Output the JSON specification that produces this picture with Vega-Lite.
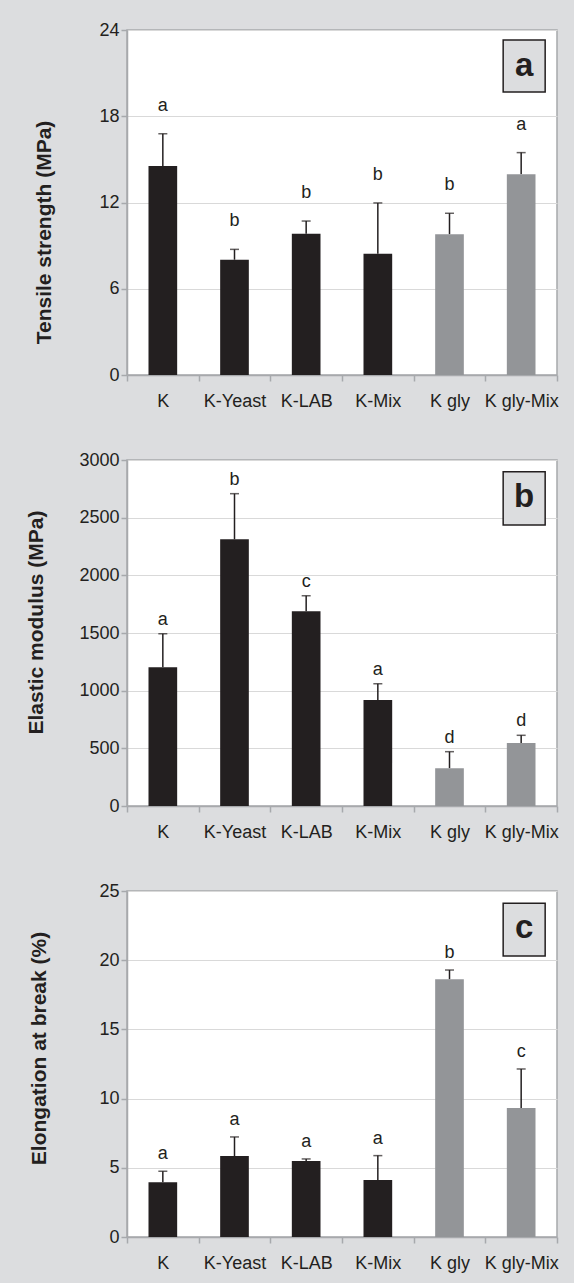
{
  "$schema": "https://vega.github.io/schema/vega-lite/v6.json",
  "background": "#dcdddf",
  "padding": {"left": 25, "top": 20, "right": 18, "bottom": 10},
  "spacing": 39,
  "datasets": {
    "tensile": [
      {"film": "K", "mean": 14.54, "upper": 16.79, "letter": "a", "plasticizer": "none"},
      {"film": "K-Yeast", "mean": 8.02, "upper": 8.74, "letter": "b", "plasticizer": "none"},
      {"film": "K-LAB", "mean": 9.83, "upper": 10.71, "letter": "b", "plasticizer": "none"},
      {"film": "K-Mix", "mean": 8.44, "upper": 11.97, "letter": "b", "plasticizer": "none"},
      {"film": "K gly", "mean": 9.79, "upper": 11.25, "letter": "b", "plasticizer": "glycerol"},
      {"film": "K gly-Mix", "mean": 13.96, "upper": 15.47, "letter": "a", "plasticizer": "glycerol"}
    ],
    "modulus": [
      {"film": "K", "mean": 1202, "upper": 1494, "letter": "a", "plasticizer": "none"},
      {"film": "K-Yeast", "mean": 2312, "upper": 2708, "letter": "b", "plasticizer": "none"},
      {"film": "K-LAB", "mean": 1688, "upper": 1823, "letter": "c", "plasticizer": "none"},
      {"film": "K-Mix", "mean": 919, "upper": 1060, "letter": "a", "plasticizer": "none"},
      {"film": "K gly", "mean": 327, "upper": 471, "letter": "d", "plasticizer": "glycerol"},
      {"film": "K gly-Mix", "mean": 546, "upper": 613, "letter": "d", "plasticizer": "glycerol"}
    ],
    "elongation": [
      {"film": "K", "mean": 3.95, "upper": 4.75, "letter": "a", "plasticizer": "none"},
      {"film": "K-Yeast", "mean": 5.85, "upper": 7.23, "letter": "a", "plasticizer": "none"},
      {"film": "K-LAB", "mean": 5.49, "upper": 5.64, "letter": "a", "plasticizer": "none"},
      {"film": "K-Mix", "mean": 4.12, "upper": 5.88, "letter": "a", "plasticizer": "none"},
      {"film": "K gly", "mean": 18.62, "upper": 19.29, "letter": "b", "plasticizer": "glycerol"},
      {"film": "K gly-Mix", "mean": 9.32, "upper": 12.14, "letter": "c", "plasticizer": "glycerol"}
    ],
    "panel": [{"film": "K gly-Mix"}]
  },
  "vconcat": [
    {
      "width": 430,
      "height": 345,
      "data": {"name": "tensile"},
      "encoding": {
        "x": {
          "field": "film", "type": "nominal",
          "scale": {"domain": ["K", "K-Yeast", "K-LAB", "K-Mix", "K gly", "K gly-Mix"], "paddingInner": 0, "paddingOuter": 0},
          "axis": {"title": null, "labelAngle": 0, "tickBand": "extent", "grid": false, "labelPadding": 11}
        }
      },
      "layer": [
        {
          "mark": {"type": "rule", "color": "#231f20", "strokeWidth": 1.5},
          "encoding": {
            "y": {"field": "mean", "type": "quantitative", "scale": {"domain": [0, 24], "nice": false},
                  "axis": {"values": [0, 6, 12, 18, 24], "title": "Tensile strength (MPa)", "titlePadding": 44, "titleY": 202}},
            "y2": {"field": "upper"}
          }
        },
        {
          "mark": {"type": "tick", "orient": "horizontal", "color": "#231f20", "size": 9, "thickness": 1.5},
          "encoding": {"y": {"field": "upper", "type": "quantitative"}}
        },
        {
          "mark": {"type": "bar", "width": {"band": 0.4}},
          "encoding": {
            "y": {"field": "mean", "type": "quantitative"},
            "color": {"field": "plasticizer", "type": "nominal", "scale": {"domain": ["none", "glycerol"], "range": ["#231f20", "#939598"]}, "legend": null}
          }
        },
        {
          "mark": {"type": "text", "fontSize": 18, "color": "#231f20", "baseline": "alphabetic", "dy": -23},
          "encoding": {"y": {"field": "upper", "type": "quantitative"}, "text": {"field": "letter"}}
        },
        {
          "data": {"name": "panel"},
          "mark": {"type": "bar", "width": 42, "xOffset": 3, "fill": "#dcdddf", "stroke": "#231f20", "strokeWidth": 1.5},
          "encoding": {"y": {"datum": 23.3}, "y2": {"datum": 19.69}}
        },
        {
          "data": {"name": "panel"},
          "mark": {"type": "text", "text": "a", "fontSize": 33, "fontWeight": "bold", "color": "#231f20", "baseline": "alphabetic", "dx": 3},
          "encoding": {"y": {"datum": 20.8}}
        }
      ]
    },
    {
      "width": 430,
      "height": 346,
      "data": {"name": "modulus"},
      "encoding": {
        "x": {
          "field": "film", "type": "nominal",
          "scale": {"domain": ["K", "K-Yeast", "K-LAB", "K-Mix", "K gly", "K gly-Mix"], "paddingInner": 0, "paddingOuter": 0},
          "axis": {"title": null, "labelAngle": 0, "tickBand": "extent", "grid": false, "labelPadding": 11}
        }
      },
      "layer": [
        {
          "mark": {"type": "rule", "color": "#231f20", "strokeWidth": 1.5},
          "encoding": {
            "y": {"field": "mean", "type": "quantitative", "scale": {"domain": [0, 3000], "nice": false},
                  "axis": {"values": [0, 500, 1000, 1500, 2000, 2500, 3000], "format": "d", "title": "Elastic modulus (MPa)", "titlePadding": 32, "titleY": 162}},
            "y2": {"field": "upper"}
          }
        },
        {
          "mark": {"type": "tick", "orient": "horizontal", "color": "#231f20", "size": 9, "thickness": 1.5},
          "encoding": {"y": {"field": "upper", "type": "quantitative"}}
        },
        {
          "mark": {"type": "bar", "width": {"band": 0.4}},
          "encoding": {
            "y": {"field": "mean", "type": "quantitative"},
            "color": {"field": "plasticizer", "type": "nominal", "scale": {"domain": ["none", "glycerol"], "range": ["#231f20", "#939598"]}, "legend": null}
          }
        },
        {
          "mark": {"type": "text", "fontSize": 18, "color": "#231f20", "baseline": "alphabetic", "dy": -9},
          "encoding": {"y": {"field": "upper", "type": "quantitative"}, "text": {"field": "letter"}}
        },
        {
          "data": {"name": "panel"},
          "mark": {"type": "bar", "width": 42, "xOffset": 3, "fill": "#dcdddf", "stroke": "#231f20", "strokeWidth": 1.5},
          "encoding": {"y": {"datum": 2899}, "y2": {"datum": 2436}}
        },
        {
          "data": {"name": "panel"},
          "mark": {"type": "text", "text": "b", "fontSize": 33, "fontWeight": "bold", "color": "#231f20", "baseline": "alphabetic", "dx": 3},
          "encoding": {"y": {"datum": 2595}}
        }
      ]
    },
    {
      "width": 430,
      "height": 346,
      "data": {"name": "elongation"},
      "encoding": {
        "x": {
          "field": "film", "type": "nominal",
          "scale": {"domain": ["K", "K-Yeast", "K-LAB", "K-Mix", "K gly", "K gly-Mix"], "paddingInner": 0, "paddingOuter": 0},
          "axis": {"title": null, "labelAngle": 0, "tickBand": "extent", "grid": false, "labelPadding": 11}
        }
      },
      "layer": [
        {
          "mark": {"type": "rule", "color": "#231f20", "strokeWidth": 1.5},
          "encoding": {
            "y": {"field": "mean", "type": "quantitative", "scale": {"domain": [0, 25], "nice": false},
                  "axis": {"values": [0, 5, 10, 15, 20, 25], "title": "Elongation at break (%)", "titlePadding": 49, "titleY": 157}},
            "y2": {"field": "upper"}
          }
        },
        {
          "mark": {"type": "tick", "orient": "horizontal", "color": "#231f20", "size": 9, "thickness": 1.5},
          "encoding": {"y": {"field": "upper", "type": "quantitative"}}
        },
        {
          "mark": {"type": "bar", "width": {"band": 0.4}},
          "encoding": {
            "y": {"field": "mean", "type": "quantitative"},
            "color": {"field": "plasticizer", "type": "nominal", "scale": {"domain": ["none", "glycerol"], "range": ["#231f20", "#939598"]}, "legend": null}
          }
        },
        {
          "mark": {"type": "text", "fontSize": 18, "color": "#231f20", "baseline": "alphabetic", "dy": -12},
          "encoding": {"y": {"field": "upper", "type": "quantitative"}, "text": {"field": "letter"}}
        },
        {
          "data": {"name": "panel"},
          "mark": {"type": "bar", "width": 42, "xOffset": 3, "fill": "#dcdddf", "stroke": "#231f20", "strokeWidth": 1.5},
          "encoding": {"y": {"datum": 24.11}, "y2": {"datum": 20.3}}
        },
        {
          "data": {"name": "panel"},
          "mark": {"type": "text", "text": "c", "fontSize": 33, "fontWeight": "bold", "color": "#231f20", "baseline": "alphabetic", "dx": 3},
          "encoding": {"y": {"datum": 21.58}}
        }
      ]
    }
  ],
  "config": {
    "font": "Liberation Sans",
    "view": {"stroke": "#a7a9ac", "strokeWidth": 1.5, "fill": "white"},
    "axis": {
      "labelFont": "Liberation Sans", "labelFontSize": 18, "labelColor": "#231f20",
      "titleFont": "Liberation Sans", "titleFontSize": 21, "titleFontWeight": "bold", "titleColor": "#231f20",
      "domainColor": "#a7a9ac", "domainWidth": 1.5, "tickColor": "#a7a9ac", "tickWidth": 1.5, "tickSize": 6,
      "gridColor": "#d9d9d9", "gridWidth": 1
    }
  }
}
